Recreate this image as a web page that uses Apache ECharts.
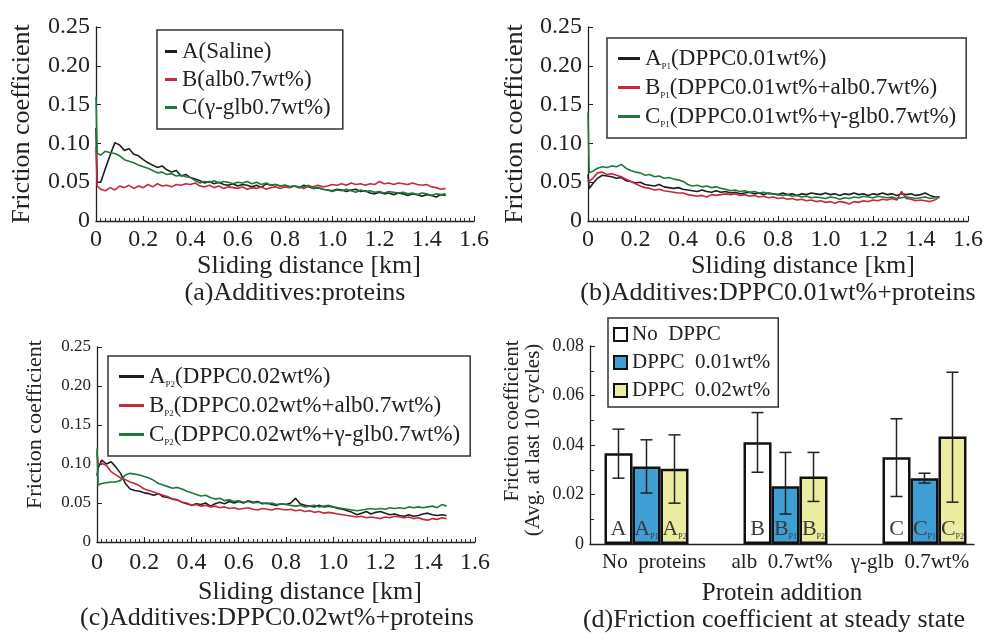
<!DOCTYPE html>
<html>
<head>
<meta charset="utf-8">
<script src="https://cdn.jsdelivr.net/npm/echarts@6/dist/echarts.min.js"></script>
<style>
  html, body { margin: 0; padding: 0; background: #fff; }
  #chart { width: 994px; height: 633px; }
</style>
</head>
<body>
<div id="chart"></div>
<script>
const FONT = 'Liberation Serif, Times New Roman, serif'
const INK = '#222'

// sliding distance [km], shared by the three line panels
const distance = [
  0, 0.005, 0.02, 0.04, 0.06, 0.08, 0.10, 0.12, 0.14, 0.16,
  0.18, 0.20, 0.22, 0.24, 0.26, 0.28, 0.30, 0.32, 0.34, 0.36,
  0.38, 0.40, 0.42, 0.44, 0.46, 0.48, 0.50, 0.52, 0.54, 0.56,
  0.58, 0.60, 0.62, 0.64, 0.66, 0.68, 0.70, 0.72, 0.74, 0.76,
  0.78, 0.80, 0.82, 0.84, 0.86, 0.88, 0.90, 0.92, 0.94, 0.96,
  0.98, 1.00, 1.02, 1.04, 1.06, 1.08, 1.10, 1.12, 1.14, 1.16,
  1.18, 1.20, 1.22, 1.24, 1.26, 1.28, 1.30, 1.32, 1.34, 1.36,
  1.38, 1.40, 1.42, 1.44, 1.46, 1.48
]

// (a) additives: proteins
const aSaline = [
  0.12, 0.05, 0.050, 0.068, 0.085, 0.101, 0.098, 0.091, 0.093, 0.086,
  0.084, 0.079, 0.075, 0.072, 0.069, 0.071, 0.066, 0.063, 0.065, 0.058,
  0.060, 0.056, 0.054, 0.052, 0.049, 0.051, 0.048, 0.050, 0.047, 0.046,
  0.048, 0.045, 0.047, 0.046, 0.044, 0.046, 0.043, 0.048, 0.046, 0.047,
  0.045, 0.046, 0.044, 0.045, 0.043, 0.046, 0.044, 0.042, 0.043, 0.041,
  0.040, 0.039, 0.041, 0.040, 0.038, 0.040, 0.041, 0.038, 0.039, 0.036,
  0.035, 0.037, 0.035, 0.036, 0.034, 0.036, 0.035, 0.033, 0.035, 0.034,
  0.032, 0.034, 0.033, 0.031, 0.034, 0.033
]
const aAlb = [
  0.095, 0.045, 0.041, 0.039, 0.043, 0.040, 0.045, 0.043, 0.046, 0.042,
  0.045, 0.043, 0.047, 0.044, 0.048, 0.045, 0.046, 0.044, 0.047, 0.046,
  0.048, 0.047, 0.049, 0.045, 0.044, 0.046, 0.043, 0.045, 0.042, 0.044,
  0.043, 0.042, 0.044, 0.041, 0.043, 0.042, 0.044, 0.041, 0.043, 0.044,
  0.042, 0.044, 0.043, 0.045, 0.044, 0.042, 0.045, 0.044, 0.046, 0.044,
  0.045, 0.047, 0.046, 0.048, 0.046, 0.049, 0.047, 0.048, 0.046, 0.048,
  0.047, 0.051, 0.048, 0.049, 0.047, 0.049, 0.048, 0.047, 0.049, 0.047,
  0.046, 0.047, 0.044, 0.043, 0.041, 0.042
]
const aGlb = [
  0.16, 0.087, 0.085, 0.090, 0.088, 0.087, 0.084, 0.079, 0.077, 0.075,
  0.072, 0.070, 0.068, 0.065, 0.062, 0.063, 0.060, 0.061, 0.058, 0.059,
  0.057, 0.056, 0.052, 0.049, 0.051, 0.050, 0.052, 0.049, 0.051, 0.050,
  0.048, 0.050, 0.049, 0.051, 0.048, 0.050, 0.047, 0.049, 0.046, 0.047,
  0.045, 0.046, 0.044, 0.045, 0.043, 0.044, 0.046, 0.042, 0.043, 0.041,
  0.040, 0.038, 0.040, 0.039, 0.041, 0.039, 0.037, 0.040, 0.038, 0.039,
  0.037, 0.038, 0.036, 0.038, 0.037, 0.036, 0.037, 0.035, 0.036, 0.034,
  0.036, 0.035, 0.033, 0.035, 0.034, 0.035
]

// (b) additives: DPPC0.01wt% + proteins
const bDppc = [
  0.06, 0.042, 0.048, 0.055, 0.059, 0.058, 0.057, 0.055, 0.056, 0.052,
  0.051, 0.049, 0.050, 0.047, 0.046, 0.045, 0.047, 0.044, 0.043, 0.042,
  0.043, 0.041, 0.040, 0.039, 0.038, 0.040, 0.038, 0.037, 0.039, 0.037,
  0.038, 0.036, 0.037, 0.035, 0.036, 0.037, 0.035, 0.036, 0.034, 0.036,
  0.035, 0.034, 0.036, 0.034, 0.035, 0.033, 0.035, 0.034, 0.036, 0.035,
  0.034, 0.036, 0.034, 0.035, 0.033, 0.035, 0.034, 0.036, 0.034, 0.035,
  0.033, 0.035, 0.034, 0.036, 0.034, 0.035, 0.033, 0.035, 0.034, 0.035,
  0.033, 0.034, 0.036, 0.033, 0.031, 0.031
]
const bAlb = [
  0.05, 0.048, 0.055, 0.062, 0.063, 0.060, 0.061, 0.059, 0.057, 0.054,
  0.051, 0.048, 0.045, 0.043, 0.042, 0.040, 0.041, 0.039, 0.038, 0.037,
  0.036, 0.036, 0.034, 0.033, 0.032, 0.033, 0.031, 0.034, 0.033, 0.034,
  0.035, 0.034, 0.035, 0.033, 0.034, 0.032, 0.033, 0.031, 0.032, 0.030,
  0.031, 0.029, 0.030, 0.028, 0.029, 0.027, 0.028, 0.026, 0.027, 0.025,
  0.026, 0.024, 0.025, 0.023, 0.025, 0.024, 0.022, 0.025, 0.024, 0.026,
  0.025, 0.027, 0.026, 0.028, 0.027, 0.029, 0.027, 0.038, 0.029, 0.028,
  0.026, 0.027, 0.026, 0.025, 0.027, 0.031
]
const bGlb = [
  0.14, 0.062, 0.064, 0.068, 0.070, 0.069, 0.071, 0.070, 0.073, 0.068,
  0.065, 0.063, 0.062, 0.059, 0.060, 0.057, 0.058, 0.055, 0.056, 0.054,
  0.053, 0.051, 0.047, 0.045, 0.046, 0.044, 0.045, 0.043, 0.044, 0.042,
  0.041, 0.039, 0.040, 0.038, 0.039, 0.037, 0.038, 0.036, 0.037, 0.035,
  0.035, 0.034, 0.033, 0.034, 0.032, 0.033, 0.031, 0.032, 0.030, 0.031,
  0.030, 0.029, 0.031, 0.030, 0.028, 0.030, 0.029, 0.031, 0.030, 0.032,
  0.031, 0.030, 0.032, 0.031, 0.030, 0.031, 0.029, 0.030, 0.031, 0.030,
  0.029, 0.030, 0.031, 0.029, 0.030, 0.031
]

// (c) additives: DPPC0.02wt% + proteins
const cDppc = [
  0.085, 0.095, 0.105, 0.100, 0.103, 0.096, 0.088, 0.075, 0.068, 0.066,
  0.065, 0.063, 0.062, 0.060, 0.062, 0.058, 0.057, 0.055, 0.054, 0.051,
  0.049, 0.047, 0.049, 0.048, 0.050, 0.046, 0.049, 0.051, 0.049, 0.052,
  0.050, 0.052, 0.050, 0.053, 0.051, 0.052, 0.049, 0.050, 0.048, 0.047,
  0.049, 0.048, 0.050, 0.056, 0.049, 0.047, 0.046, 0.045, 0.047, 0.045,
  0.046, 0.045, 0.043, 0.042, 0.040, 0.038, 0.035, 0.037, 0.039, 0.036,
  0.038, 0.039, 0.037, 0.035, 0.036, 0.034, 0.033, 0.035, 0.033, 0.034,
  0.036, 0.037, 0.035, 0.034, 0.035, 0.034
]
const cAlb = [
  0.115, 0.100, 0.101, 0.098, 0.090, 0.086, 0.082, 0.080, 0.077, 0.075,
  0.072, 0.068, 0.066, 0.064, 0.062, 0.060, 0.058, 0.055, 0.054, 0.051,
  0.050, 0.047, 0.048, 0.046, 0.047, 0.045, 0.046, 0.044, 0.045, 0.043,
  0.044, 0.042, 0.043, 0.044, 0.042, 0.041, 0.043, 0.042, 0.041, 0.043,
  0.042, 0.041, 0.042, 0.040, 0.041, 0.039, 0.040, 0.038, 0.039, 0.037,
  0.038, 0.037, 0.036, 0.035, 0.034, 0.033, 0.032, 0.033, 0.031, 0.032,
  0.031, 0.030, 0.032, 0.031, 0.033, 0.032, 0.031, 0.032, 0.030, 0.031,
  0.029, 0.028, 0.030, 0.029, 0.031, 0.030
]
const cGlb = [
  0.12, 0.073, 0.075, 0.076, 0.077, 0.077, 0.079, 0.086, 0.088, 0.087,
  0.086, 0.084, 0.082, 0.079, 0.075, 0.073, 0.071, 0.069, 0.070, 0.068,
  0.065, 0.063, 0.061, 0.059, 0.060, 0.057, 0.055, 0.056, 0.053, 0.054,
  0.052, 0.053, 0.051, 0.052, 0.050, 0.051, 0.050, 0.049, 0.050, 0.048,
  0.049, 0.048, 0.047, 0.046, 0.047, 0.045, 0.046, 0.047, 0.045, 0.046,
  0.047, 0.045, 0.044, 0.043, 0.042, 0.041, 0.040, 0.041, 0.042, 0.043,
  0.042, 0.043, 0.042, 0.044, 0.043, 0.044, 0.043, 0.045, 0.044, 0.045,
  0.044, 0.045, 0.046, 0.044, 0.048, 0.046
]

// (d) steady state averages with error ranges [low, high]
const proteinGroups = ['No  proteins', 'alb  0.7wt%', 'γ-glb  0.7wt%']
const barLetters = ['A', 'B', 'C']
const noDppc = [0.0367, 0.0411, 0.0351]
const dppc001 = [0.0313, 0.0233, 0.0266]
const dppc002 = [0.0304, 0.0273, 0.0434]
const noDppcErr = [[0.0266, 0.0464], [0.0290, 0.0531], [0.0192, 0.0506]]
const dppc001Err = [[0.0206, 0.0421], [0.0121, 0.0370], [0.0246, 0.0286]]
const dppc002Err = [[0.0165, 0.0441], [0.0172, 0.0370], [0.0169, 0.0694]]

const subRich = (size, sub) => ({
  n: { fontFamily: FONT, fontSize: size, color: INK, lineHeight: size + 2 },
  s: { fontFamily: FONT, fontSize: sub, color: INK, verticalAlign: 'bottom', lineHeight: sub + 2 }
})
const subFormat = name => name.replace(/^(\w)_(P\d)(.*)$/, '{n|$1}{s|$2}{n|$3}')

const zip = ys => ys.map((y, i) => [distance[i], y])

function lineX(gridIndex, gap, shift, labelMargin) {
  return {
    gridIndex,
    type: 'value',
    min: 0,
    max: 1.6,
    interval: 0.2,
    name: 'Sliding distance [km]',
    nameLocation: 'middle',
    nameGap: gap,
    nameTextStyle: { fontFamily: FONT, fontSize: 26, color: INK, padding: [0, 0, 0, shift] },
    axisLine: { lineStyle: { color: INK, width: 1.3 } },
    axisTick: { inside: true, length: 5, lineStyle: { color: INK } },
    minorTick: { show: true, splitNumber: 10, length: 3, lineStyle: { color: '#333' } },
    axisLabel: {
      fontFamily: FONT, fontSize: 24, color: INK, margin: labelMargin,
      formatter: v => (v === 0 ? '0' : v.toFixed(1))
    },
    splitLine: { show: false }
  }
}

function lineY(gridIndex, labelSize, nameSize, gap, shift) {
  return {
    gridIndex,
    type: 'value',
    min: 0,
    max: 0.25,
    interval: 0.05,
    name: 'Friction coefficient',
    nameLocation: 'middle',
    nameGap: gap,
    nameTextStyle: { fontFamily: FONT, fontSize: nameSize, color: INK, padding: [0, 0, 0, shift] },
    axisLine: { show: true, lineStyle: { color: INK, width: 1.3 } },
    axisTick: { show: true, inside: true, length: 5, lineStyle: { color: INK } },
    axisLabel: {
      fontFamily: FONT, fontSize: labelSize, color: INK, margin: 6,
      formatter: v => (v === 0 ? '0' : v.toFixed(2))
    },
    splitLine: { show: false }
  }
}

const COLORS = ['#1e1e1e', '#c8283e', '#1d7a3c']

function lineSeries(name, ys, idx, color) {
  return {
    name,
    type: 'line',
    xAxisIndex: idx,
    yAxisIndex: idx,
    data: zip(ys),
    showSymbol: false,
    color,
    lineStyle: { width: 1.6, color },
    animation: false
  }
}

function lineLegend(names, left, top, iconW, padding) {
  return {
    data: names.map(n => ({ name: n, icon: 'rect' })),
    orient: 'vertical',
    left,
    top,
    padding,
    itemGap: 5,
    itemWidth: iconW,
    itemHeight: 3,
    borderColor: '#333',
    borderWidth: 1.5,
    formatter: subFormat,
    textStyle: { fontFamily: FONT, fontSize: 23, color: INK, rich: subRich(23, 9) }
  }
}

const namesA = ['A(Saline)', 'B(alb0.7wt%)', 'C(γ-glb0.7wt%)']
const namesB = ['A_P1(DPPC0.01wt%)', 'B_P1(DPPC0.01wt%+alb0.7wt%)', 'C_P1(DPPC0.01wt%+γ-glb0.7wt%)']
const namesC = ['A_P2(DPPC0.02wt%)', 'B_P2(DPPC0.02wt%+alb0.7wt%)', 'C_P2(DPPC0.02wt%+γ-glb0.7wt%)']
const namesD = ['No  DPPC', 'DPPC  0.01wt%', 'DPPC  0.02wt%']

const BAR_COLORS = ['#ffffff', '#3f9fd4', '#ececa0']
const BAR_W = 28

function barSeries(name, values, color, sub) {
  return {
    name,
    type: 'bar',
    xAxisIndex: 4,
    yAxisIndex: 4,
    data: values,
    barWidth: BAR_W,
    barGap: '0%',
    itemStyle: { color, borderColor: '#111', borderWidth: 2.5 },
    label: {
      show: true,
      position: 'insideBottom',
      distance: 3,
      formatter: p => (sub ? '{n|' + barLetters[p.dataIndex] + '}{s|' + sub + '}' : '{n|' + barLetters[p.dataIndex] + '}'),
      rich: {
        n: { fontFamily: FONT, fontSize: 22, color: '#3a3a3a', lineHeight: 23 },
        s: { fontFamily: FONT, fontSize: 8, color: '#3a3a3a', verticalAlign: 'bottom', lineHeight: 9 }
      }
    },
    animation: false
  }
}

function errorSeries(errs, offset) {
  return {
    type: 'custom',
    xAxisIndex: 4,
    yAxisIndex: 4,
    data: errs.map((e, i) => [i, e[0], e[1]]),
    encode: { x: 0, y: [1, 2] },
    z: 10,
    silent: true,
    renderItem: (params, api) => {
      const lo = api.coord([api.value(0), api.value(1)])
      const hi = api.coord([api.value(0), api.value(2)])
      const x = lo[0] + offset
      const cap = 6
      const style = { stroke: '#222', lineWidth: 1.5 }
      return {
        type: 'group',
        children: [
          { type: 'line', shape: { x1: x, y1: lo[1], x2: x, y2: hi[1] }, style },
          { type: 'line', shape: { x1: x - cap, y1: lo[1], x2: x + cap, y2: lo[1] }, style },
          { type: 'line', shape: { x1: x - cap, y1: hi[1], x2: x + cap, y2: hi[1] }, style }
        ]
      }
    },
    animation: false
  }
}

function caption(text, cx, top, size) {
  return {
    text,
    left: cx,
    top,
    textAlign: 'center',
    padding: 0,
    textStyle: { fontFamily: FONT, fontSize: size, fontWeight: 'normal', color: INK }
  }
}

const chart = echarts.init(document.getElementById('chart'))

chart.setOption({
  backgroundColor: '#fff',
  animation: false,
  title: [
    caption('(a)Additives:proteins', 295, 280, 26),
    caption('(b)Additives:DPPC0.01wt%+proteins', 778, 280, 26),
    caption('(c)Additives:DPPC0.02wt%+proteins', 277, 605, 26),
    caption('(d)Friction coefficient at steady state', 774, 607, 26)
  ],
  grid: [
    { left: 96, top: 27, width: 378, height: 194 },
    { left: 588, top: 27, width: 380, height: 194 },
    { left: 97, top: 347, width: 378, height: 195 },
    { left: 590, top: 346, width: 384, height: 198 },
    { left: 577, top: 346, width: 420, height: 198 }
  ],
  xAxis: [
    lineX(0, 31, 48, 7),
    lineX(1, 31, 50, 7),
    lineX(2, 37, 48, 9),
    {
      gridIndex: 3,
      type: 'category',
      data: proteinGroups,
      name: 'Protein addition',
      nameLocation: 'middle',
      nameGap: 37,
      nameTextStyle: { fontFamily: FONT, fontSize: 25, color: INK },
      axisLine: { lineStyle: { color: INK, width: 1.3 } },
      axisTick: { show: false },
      axisLabel: { interval: 0, fontFamily: FONT, fontSize: 21, color: INK, margin: 8 }
    },
    { gridIndex: 4, type: 'category', data: proteinGroups, show: false }
  ],
  yAxis: [
    lineY(0, 24, 26, 61, 0),
    lineY(1, 24, 26, 60, 0),
    lineY(2, 17, 22, 51, 40),
    {
      gridIndex: 3,
      type: 'value',
      min: 0,
      max: 0.08,
      interval: 0.02,
      axisLine: { show: true, lineStyle: { color: INK, width: 1.3 } },
      axisTick: { show: true, inside: true, length: 5, lineStyle: { color: INK } },
      minorTick: { show: true, splitNumber: 2, length: 4, lineStyle: { color: INK } },
      axisLabel: {
        fontFamily: FONT, fontSize: 18, color: INK, margin: 6,
        formatter: v => (v === 0 ? '0' : v.toFixed(2))
      },
      splitLine: { show: false }
    },
    { gridIndex: 4, type: 'value', min: 0, max: 0.08, show: false }
  ],
  graphic: [
    {
      type: 'text', x: 512, y: 421, rotation: Math.PI / 2,
      style: { text: 'Friction coefficient', fontFamily: FONT, fontSize: 21, fill: INK, align: 'center', verticalAlign: 'middle' }
    },
    {
      type: 'text', x: 533, y: 440, rotation: Math.PI / 2,
      style: { text: '(Avg. at last 10 cycles)', fontFamily: FONT, fontSize: 21, fill: INK, align: 'center', verticalAlign: 'middle' }
    }
  ],
  legend: [
    lineLegend(namesA, 157, 30, 12, [10, 12, 10, 8]),
    lineLegend(namesB, 607, 38, 22, [9, 10, 9, 11]),
    lineLegend(namesC, 108, 356, 25, [9, 10, 9, 11]),
    {
      data: namesD,
      orient: 'vertical',
      left: 608,
      top: 318,
      padding: [6, 8, 6, 5],
      itemGap: 7,
      itemWidth: 13,
      itemHeight: 13,
      icon: 'rect',
      borderColor: '#333',
      borderWidth: 1.5,
      textStyle: { fontFamily: FONT, fontSize: 21, color: INK }
    }
  ],
  series: [
    lineSeries(namesA[0], aSaline, 0, COLORS[0]),
    lineSeries(namesA[1], aAlb, 0, COLORS[1]),
    lineSeries(namesA[2], aGlb, 0, COLORS[2]),
    lineSeries(namesB[0], bDppc, 1, COLORS[0]),
    lineSeries(namesB[1], bAlb, 1, COLORS[1]),
    lineSeries(namesB[2], bGlb, 1, COLORS[2]),
    lineSeries(namesC[0], cDppc, 2, COLORS[0]),
    lineSeries(namesC[1], cAlb, 2, COLORS[1]),
    lineSeries(namesC[2], cGlb, 2, COLORS[2]),
    barSeries(namesD[0], noDppc, BAR_COLORS[0], ''),
    barSeries(namesD[1], dppc001, BAR_COLORS[1], 'P1'),
    barSeries(namesD[2], dppc002, BAR_COLORS[2], 'P2'),
    errorSeries(noDppcErr, -BAR_W),
    errorSeries(dppc001Err, 0),
    errorSeries(dppc002Err, BAR_W)
  ]
})
</script>
</body>
</html>
